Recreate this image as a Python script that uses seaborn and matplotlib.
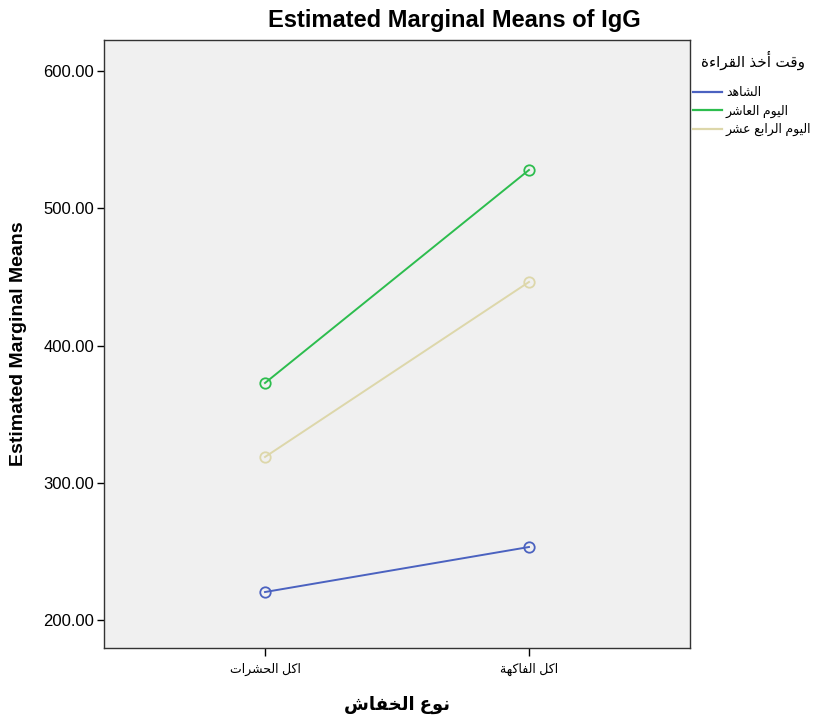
import matplotlib
matplotlib.use("Agg")
import matplotlib.pyplot as plt
from matplotlib.lines import Line2D
import seaborn as sns
import pandas as pd

# ---- data ----
categories = ["اكل الحشرات", "اكل الفاكهة"]
series_names = ["الشاهد", "اليوم العاشر", "اليوم الرابع عشر"]
control_vals = [220.4, 253.2]
day10_vals = [372.7, 527.9]
day14_vals = [318.8, 446.3]
y_ticks = [200, 300, 400, 500, 600]
colors = ["#4b62c0", "#2dbd4e", "#ddd7aa"]

# ---- minimal Arabic shaping (presentation forms + visual order) ----
FORMS = {
    "\u0621": ("\uFE80", None, None, None),
    "\u0623": ("\uFE83", "\uFE84", None, None),
    "\u0627": ("\uFE8D", "\uFE8E", None, None),
    "\u0628": ("\uFE8F", "\uFE90", "\uFE91", "\uFE92"),
    "\u0629": ("\uFE93", "\uFE94", None, None),
    "\u062A": ("\uFE95", "\uFE96", "\uFE97", "\uFE98"),
    "\u062D": ("\uFEA1", "\uFEA2", "\uFEA3", "\uFEA4"),
    "\u062E": ("\uFEA5", "\uFEA6", "\uFEA7", "\uFEA8"),
    "\u062F": ("\uFEA9", "\uFEAA", None, None),
    "\u0630": ("\uFEAB", "\uFEAC", None, None),
    "\u0631": ("\uFEAD", "\uFEAE", None, None),
    "\u0634": ("\uFEB5", "\uFEB6", "\uFEB7", "\uFEB8"),
    "\u0639": ("\uFEC9", "\uFECA", "\uFECB", "\uFECC"),
    "\u0641": ("\uFED1", "\uFED2", "\uFED3", "\uFED4"),
    "\u0642": ("\uFED5", "\uFED6", "\uFED7", "\uFED8"),
    "\u0643": ("\uFED9", "\uFEDA", "\uFEDB", "\uFEDC"),
    "\u0644": ("\uFEDD", "\uFEDE", "\uFEDF", "\uFEE0"),
    "\u0645": ("\uFEE1", "\uFEE2", "\uFEE3", "\uFEE4"),
    "\u0646": ("\uFEE5", "\uFEE6", "\uFEE7", "\uFEE8"),
    "\u0647": ("\uFEE9", "\uFEEA", "\uFEEB", "\uFEEC"),
    "\u0648": ("\uFEED", "\uFEEE", None, None),
    "\u064A": ("\uFEF1", "\uFEF2", "\uFEF3", "\uFEF4"),
}


def shape(text):
    out = []
    n = len(text)
    for i, ch in enumerate(text):
        if ch not in FORMS:
            out.append(ch)
            continue
        prev = text[i - 1] if i > 0 else None
        nxt = text[i + 1] if i < n - 1 else None
        join_prev = prev in FORMS and FORMS[prev][2] is not None
        join_next = nxt in FORMS and FORMS[ch][2] is not None
        iso, fin, ini, med = FORMS[ch]
        if join_prev and join_next:
            out.append(med)
        elif join_prev:
            out.append(fin)
        elif join_next:
            out.append(ini)
        else:
            out.append(iso)
    return "".join(out)[::-1]


plt.rcParams["font.family"] = ["Liberation Sans", "DejaVu Sans"]

rows = []
for name, vals in zip(series_names, [control_vals, day10_vals, day14_vals]):
    for cat, v in zip(categories, vals):
        rows.append({"cat": shape(cat), "value": v, "series": name})
df = pd.DataFrame(rows)

fig = plt.figure(figsize=(8.15, 7.17), dpi=100)
ax = fig.add_axes([0.1276, 0.0962, 0.7190, 0.8480])
ax.set_facecolor("#f0f0f0")

for name, col in zip(series_names, colors):
    sub = df[df["series"] == name]
    sns.lineplot(data=sub, x="cat", y="value", ax=ax, color=col, linewidth=1.4,
                 marker="o", markersize=7.5, markerfacecolor="none",
                 markeredgecolor=col, markeredgewidth=1.3, legend=False)

ax.set_xlim(-0.61, 1.61)
ax.set_ylim(179.6, 622.6)
ax.set_yticks(y_ticks)
ax.set_yticklabels([f"{t:.2f}" for t in y_ticks], fontsize=12)
ax.tick_params(axis="x", labelsize=9, length=6, width=1, pad=5)
ax.tick_params(axis="y", length=5, width=1, pad=2)
for s in ax.spines.values():
    s.set_color("#333333")
    s.set_linewidth(1.0)

ax.set_ylabel("Estimated Marginal Means", fontsize=14, fontweight="bold", labelpad=12)
ax.set_xlabel(shape("نوع الخفاش"), fontsize=13, fontweight="bold", labelpad=14)
fig.text(454 / 815, 1 - 20 / 717, "Estimated Marginal Means of IgG", fontsize=17,
         fontweight="bold", ha="center", va="center")

fig.text(753 / 815, 1 - 60 / 717, shape("وقت أخذ القراءة"), fontsize=11,
         ha="center", va="center")
handles = [Line2D([0], [0], color=c, linewidth=1.6) for c in colors]
leg = ax.legend(handles, [shape(s) for s in series_names],
                loc="upper left", bbox_to_anchor=(1.006, 0.922), frameon=False,
                fontsize=9, handlelength=2.3, handletextpad=0.3,
                labelspacing=0.42, borderaxespad=0.0, borderpad=0.0)

fig.savefig("out.png", dpi=100, facecolor="white")
